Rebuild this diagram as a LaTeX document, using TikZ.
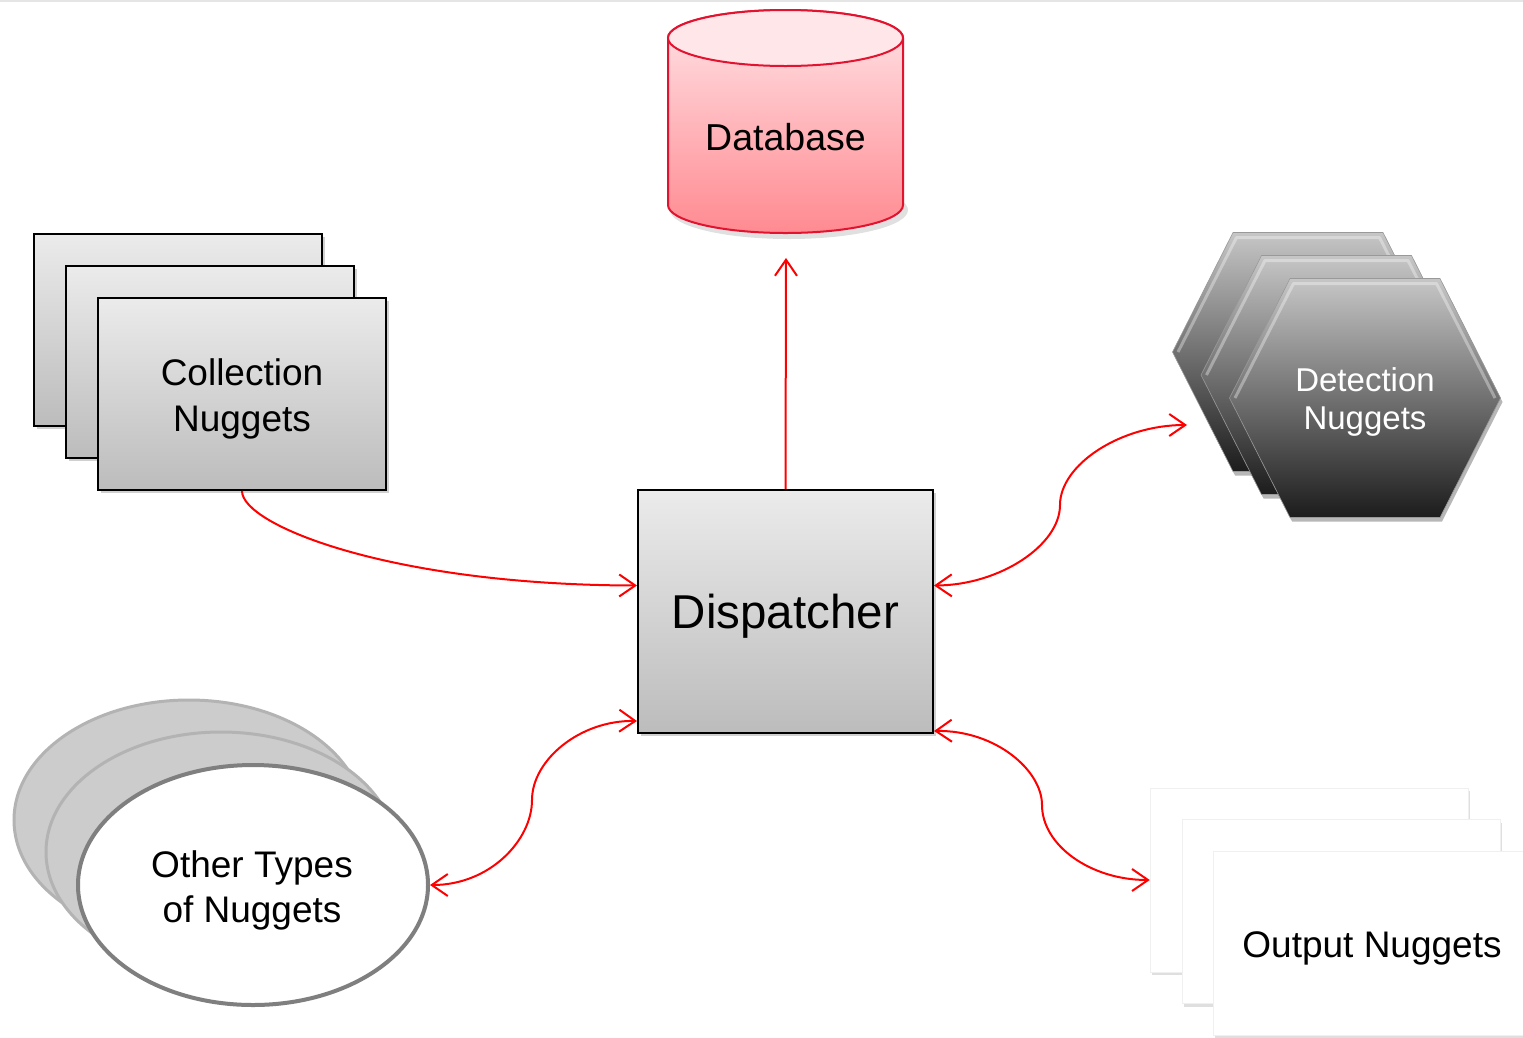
\documentclass[tikz,border=0pt]{standalone}
\usepackage{fontspec}
\setmainfont{Liberation Sans}
\usetikzlibrary{shapes.geometric,shadows,arrows.meta}

\definecolor{boxTop}{HTML}{EBEBEB}
\definecolor{boxBot}{HTML}{BCBCBC}
\definecolor{hexTop}{HTML}{C6C6C6}
\definecolor{hexBot}{HTML}{1C1C1C}
\definecolor{dbTop}{HTML}{FFE4E7}
\definecolor{dbBot}{HTML}{FF8A91}
\definecolor{dbLid}{HTML}{FFE6E9}
\definecolor{dbEdge}{HTML}{E3122F}
\definecolor{ovalBack}{HTML}{CCCCCC}
\definecolor{ovalBackEdge}{HTML}{B3B3B3}
\definecolor{ovalEdge}{HTML}{7F7F7F}
\definecolor{linkred}{HTML}{FF0000}

\begin{document}
\begin{tikzpicture}[x=1pt,y=-1pt,
  >={Straight Barb[length=16pt,width=22pt]},
  softshadow/.style={drop shadow={shadow xshift=3pt,shadow yshift=-3pt,opacity=0.3,fill=black!60}},
  greybox/.style={rectangle, draw=black, line width=2pt, top color=boxTop, bottom color=boxBot,
    inner sep=0pt, softshadow},
  hexface/.style={top color=hexTop, bottom color=hexBot, draw=black!40, line width=0.6pt,
    line join=round,
    drop shadow={shadow xshift=2pt,shadow yshift=-4pt,opacity=0.4,fill=black!70}},
  bevel/.style={draw=white, opacity=0.35, line width=3pt, line join=round},
  ovalback/.style={ellipse, minimum width=350pt, minimum height=240pt, inner sep=0pt,
    fill=ovalBack, draw=ovalBackEdge, line width=3pt},
  ovalfront/.style={ellipse, minimum width=350pt, minimum height=240pt, inner sep=0pt,
    fill=white, draw=ovalEdge, line width=4pt},
  outbox/.style={rectangle, fill=white, draw=black!6, minimum width=318pt, minimum height=184pt,
    inner sep=0pt, drop shadow={shadow xshift=2pt,shadow yshift=-3pt,opacity=0.25,fill=black!50}},
  label/.style={align=center, inner sep=0pt},
  link/.style={draw=linkred, line width=2pt}
]
\clip (0,0) rectangle (1523,1037);
\fill[white] (0,0) rectangle (1523,1037);
\fill[black!10] (0,0) rectangle (1523,2);

% database cylinder
\fill[black, opacity=0.12] (789,210) ellipse [x radius=119, y radius=29];
\path[draw=dbEdge, line width=2pt, top color=dbTop, bottom color=dbBot]
  (668,38) -- (668,205) arc[start angle=180, end angle=0, x radius=117.5, y radius=28]
  -- (903,38) arc[start angle=0, end angle=-180, x radius=117.5, y radius=28] -- cycle;
\draw[dbEdge, line width=2pt, fill=dbLid] (785.5,38) ellipse [x radius=117.5, y radius=28];
\node[label, font=\fontsize{37.5}{43}\selectfont] (db) at (785.5,137) {Database};
\coordinate (dbin) at (786,258);

% collection nuggets
\node[greybox, minimum width=288pt, minimum height=192pt] (c1) at (178,330) {};
\node[greybox, minimum width=288pt, minimum height=192pt] (c2) at (210,362) {};
\node[greybox, minimum width=288pt, minimum height=192pt] (c3) at (242,394) {};
\node[label, font=\fontsize{37}{46}\selectfont] (c3t) at (242,399) {Collection\\Nuggets};

% dispatcher
\node[greybox, minimum width=295pt, minimum height=243pt] (disp) at (785.5,611.5) {};
\node[label, font=\fontsize{47.5}{54}\selectfont] (dispt) at (785.5,616.5) {Dispatcher};

% detection nuggets: three stacked hexagons
\foreach \cx/\cy/\nm in {1308/352/h1, 1336.5/375/h2, 1365/398/h3}{
  \path[hexface] (\cx-135.5,\cy) -- (\cx-75,\cy-119.5) -- (\cx+75,\cy-119.5)
    -- (\cx+135.5,\cy) -- (\cx+75,\cy+119.5) -- (\cx-75,\cy+119.5) -- cycle;
  \draw[bevel] (\cx-130,\cy) -- (\cx-71.5,\cy-114.5) -- (\cx+71.5,\cy-114.5) -- (\cx+130,\cy);
  \coordinate (\nm) at (\cx,\cy);
}
\node[label, text=white, font=\fontsize{33}{38}\selectfont] (h3t) at (1365,402) {Detection\\Nuggets};
\coordinate (detin) at (1187,425);

% other types of nuggets
\node[ovalback] (o1) at (189,820) {};
\node[ovalback] (o2) at (221,852) {};
\node[ovalfront] (o3) at (253,885) {};
\node[label, font=\fontsize{37}{45}\selectfont] (o3t) at (252,890) {Other Types\\of Nuggets};

% output nuggets
\node[outbox] (p1) at (1309,880) {};
\node[outbox] (p2) at (1341,911.5) {};
\node[outbox] (p3) at (1372,943) {};
\node[label, font=\fontsize{37}{46}\selectfont] (p3t) at (1372,948) {Output Nuggets};

% connectors
\coordinate (m2) at (1060,505);
\coordinate (m3) at (532,800);
\coordinate (m4) at (1042,805);

\draw[link, ->] (disp.north) -- (dbin);
\draw[link, ->] (c3.south) .. controls (242,525) and (390,585) .. ([yshift=26pt]disp.west);
\draw[link, <->] ([yshift=26pt]disp.east) .. controls (1000,585) and (1060,545) .. (m2)
  .. controls (1060,465) and (1120,425) .. (detin);
\draw[link, <->] (o3.east) .. controls (490,885) and (532,840) .. (m3)
  .. controls (532,760) and (580,720) .. ([yshift=13pt]disp.south west);
\draw[link, <->] ([yshift=3pt]disp.south east) .. controls (995,730) and (1042,770) .. (m4)
  .. controls (1042,845) and (1090,880) .. (p1.west);
\end{tikzpicture}
\end{document}
